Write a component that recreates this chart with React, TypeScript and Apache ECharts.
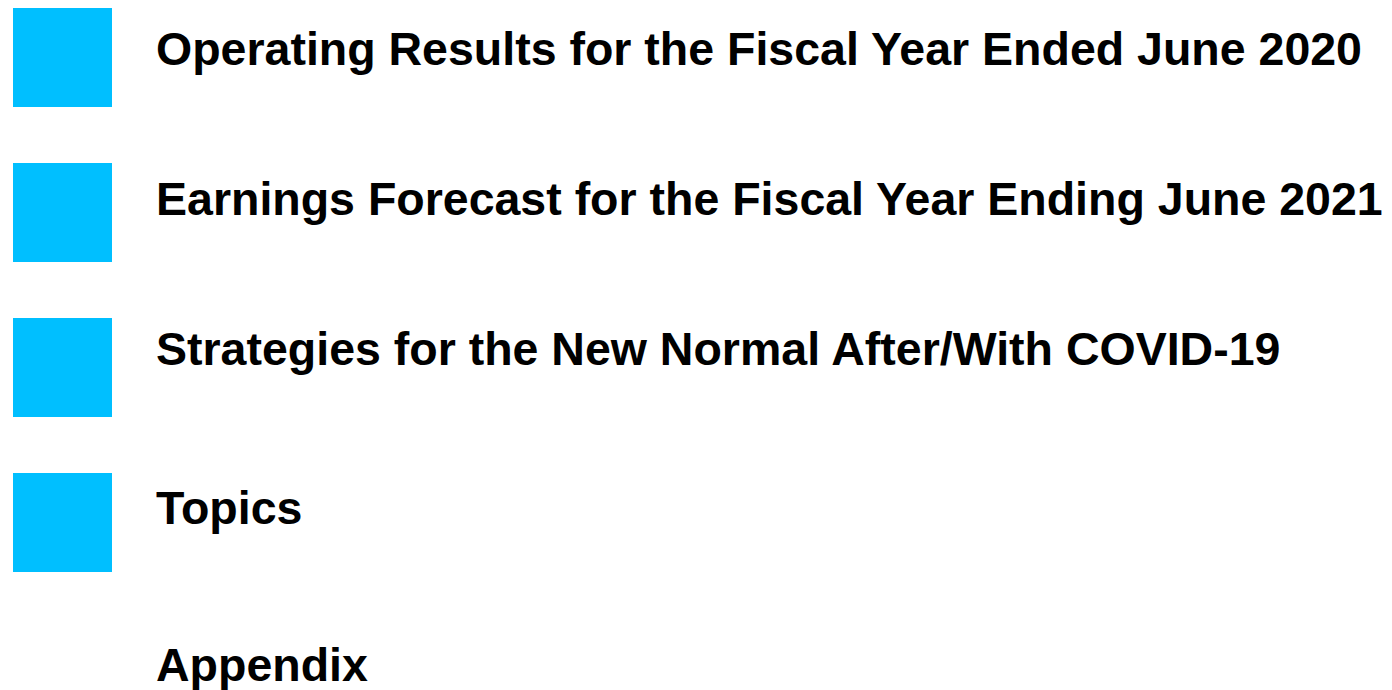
import React, { useEffect, useRef } from "react";
import * as echarts from "echarts";

const itemLabels: string[] = [
  "Operating Results for the Fiscal Year Ended June 2020",
  "Earnings Forecast for the Fiscal Year Ending June 2021",
  "Strategies for the New Normal After/With COVID-19",
  "Topics",
  "Appendix",
];
const itemHasMarker: boolean[] = [true, true, true, true, false];

// layout constants
const MARKER_X = 13;
const MARKER_SIZE = 99;
const MARKER_TOPS = [8, 163, 318, 473, 628];
const TEXT_X = 156;
const TEXT_MIDDLES = [49, 199, 349, 508, 665];
const FONT_SIZE = 46.5;
const MARKER_COLOR = "#00BFFF";

export default function App() {
  const ref = useRef<HTMLDivElement>(null);
  useEffect(() => {
    if (!ref.current) return;
    const chart = echarts.init(ref.current, undefined, { renderer: "svg" });
    const elements: any[] = [];
    itemLabels.forEach((label, i) => {
      if (itemHasMarker[i]) {
        elements.push({
          type: "rect",
          shape: { x: MARKER_X, y: MARKER_TOPS[i], width: MARKER_SIZE, height: MARKER_SIZE },
          style: { fill: MARKER_COLOR },
        });
      }
      elements.push({
        type: "text",
        x: TEXT_X,
        y: TEXT_MIDDLES[i],
        style: {
          text: label,
          fill: "#000000",
          font: `bold ${FONT_SIZE}px "Liberation Sans", Arial, sans-serif`,
          textAlign: "left",
          textVerticalAlign: "middle",
          verticalAlign: "middle",
        },
      });
    });
    chart.setOption({
      animation: false,
      backgroundColor: "#ffffff",
      graphic: { elements },
    });
    return () => chart.dispose();
  }, []);
  return (
    <div
      ref={ref}
      style={{ position: "fixed", left: 0, top: 0, width: 1392, height: 690, background: "#fff" }}
    />
  );
}
